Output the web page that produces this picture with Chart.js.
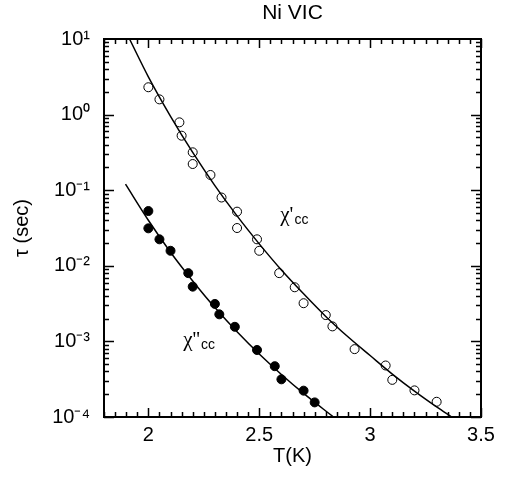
<!DOCTYPE html>
<html><head><meta charset="utf-8">
<script src="https://cdn.jsdelivr.net/npm/chart.js@4.4.1/dist/chart.umd.min.js"></script>
<style>html,body{margin:0;padding:0;background:#fff;} canvas{display:block;}</style>
</head><body>
<canvas id="c" width="505" height="481"></canvas>
<script>
// χ'cc measured relaxation times (open circles)
const chiPrimeT   = [2.00, 2.05, 2.14, 2.15, 2.20, 2.20, 2.28, 2.33, 2.40, 2.40, 2.49, 2.50, 2.59, 2.66, 2.70, 2.80, 2.83, 2.93, 3.07, 3.10, 3.20, 3.30];
const chiPrimeTau = [2.3, 1.59, 0.79, 0.526, 0.317, 0.222, 0.159, 0.080, 0.052, 0.0316, 0.0224, 0.0158, 0.0080, 0.0052, 0.0032, 0.00223, 0.00158, 0.00079, 0.00048, 0.00031, 0.000225, 0.000159];
// χ''cc measured relaxation times (filled circles)
const chiDoubleT   = [2.00, 2.00, 2.05, 2.10, 2.18, 2.20, 2.30, 2.32, 2.39, 2.49, 2.57, 2.60, 2.70, 2.75];
const chiDoubleTau = [0.053, 0.0313, 0.0224, 0.0158, 0.0080, 0.0053, 0.00313, 0.00228, 0.00156, 0.00077, 0.00047, 0.000315, 0.000223, 0.000156];
// fitted curves
const fitPrimeT   = [1.915, 2.0, 2.1, 2.2, 2.3, 2.4, 2.5, 2.6, 2.7, 2.8, 2.9, 3.0, 3.1, 3.2, 3.3, 3.368];
const fitPrimeTau = [10, 3.16, 0.95, 0.316, 0.115, 0.0457, 0.0195, 0.0088, 0.00426, 0.00214, 0.00115, 0.00065, 0.00037, 0.00022, 0.000136, 0.0001];
const fitDoubleT   = [1.897, 2.0, 2.1, 2.2, 2.3, 2.4, 2.5, 2.6, 2.7, 2.835];
const fitDoubleTau = [0.12, 0.040, 0.0151, 0.0063, 0.0028, 0.00134, 0.00068, 0.000365, 0.000205, 0.0001];
// axis ticks
const xTickValues = [2, 2.5, 3, 3.5];
const xTickLabels = ['2', '2.5', '3', '3.5'];
const yTickValues = [1e-4, 1e-3, 1e-2, 1e-1, 1, 10];
const yTickLabels = ['10\u207B\u2074', '10\u207B\u00B3', '10\u207B\u00B2', '10\u207B\u00B9', '10\u2070', '10\u00B9'];

const pts = (xs, ys) => xs.map((x, i) => ({x: x, y: ys[i]}));

Chart.defaults.font.family = '"Liberation Sans", Arial, sans-serif';
Chart.defaults.color = '#000';

const framePlugin = {
  id: 'frame',
  afterDraw(chart) {
    const ctx = chart.ctx, a = chart.chartArea, xs = chart.scales.x, ys = chart.scales.y;
    ctx.save();
    ctx.strokeStyle = '#000';
    ctx.lineWidth = 1.5;
    ctx.beginPath();
    for (let k = 36; k <= 70; k++) {
      const v = k / 20;
      const len = (k % 10 === 0) ? 9 : 5;
      const px = Math.round(xs.getPixelForValue(v)) + 0.5;
      ctx.moveTo(px, a.bottom); ctx.lineTo(px, a.bottom - len);
      ctx.moveTo(px, a.top); ctx.lineTo(px, a.top + len);
    }
    for (let e = -4; e <= 0; e++) {
      for (let m = 1; m <= 9; m++) {
        const v = m * Math.pow(10, e);
        const len = (m === 1) ? 10 : 5;
        const py = Math.round(ys.getPixelForValue(v)) + 0.5;
        ctx.moveTo(a.left, py); ctx.lineTo(a.left + len, py);
        ctx.moveTo(a.right, py); ctx.lineTo(a.right - len, py);
      }
    }
    ctx.stroke();
    ctx.lineWidth = 2;
    ctx.strokeRect(a.left, a.top, a.right - a.left, a.bottom - a.top);

    // curve labels
    ctx.fillStyle = '#000';
    ctx.textBaseline = 'alphabetic';
    ctx.textAlign = 'left';
    let px = xs.getPixelForValue(2.595), py = ys.getPixelForValue(0.0392);
    ctx.font = '21px "Liberation Serif", serif';
    ctx.fillText("\u03C7'", px, py);
    let w = ctx.measureText("\u03C7'").width;
    ctx.font = '14px "Liberation Sans", Arial, sans-serif';
    ctx.fillText('cc', px + w + 1, py + 3);

    px = xs.getPixelForValue(2.157); py = ys.getPixelForValue(0.00087);
    ctx.font = '21px "Liberation Serif", serif';
    ctx.fillText("\u03C7''", px, py);
    w = ctx.measureText("\u03C7''").width;
    ctx.font = '14px "Liberation Sans", Arial, sans-serif';
    ctx.fillText('cc', px + w + 1, py + 3);
    ctx.restore();
  }
};

new Chart(document.getElementById('c'), {
  type: 'scatter',
  data: {
    datasets: [
      { label: "χ'cc fit", data: pts(fitPrimeT, fitPrimeTau), showLine: true, borderColor: '#000', borderWidth: 1.5, pointRadius: 0, cubicInterpolationMode: 'monotone', fill: false },
      { label: "χ''cc fit", data: pts(fitDoubleT, fitDoubleTau), showLine: true, borderColor: '#000', borderWidth: 1.5, pointRadius: 0, cubicInterpolationMode: 'monotone', fill: false },
      { label: "χ'cc", data: pts(chiPrimeT, chiPrimeTau), showLine: false, pointRadius: 4.5, pointBorderWidth: 1, borderColor: '#000', backgroundColor: 'rgba(0,0,0,0)', pointBackgroundColor: 'rgba(0,0,0,0)' },
      { label: "χ''cc", data: pts(chiDoubleT, chiDoubleTau), showLine: false, pointRadius: 4.5, pointBorderWidth: 1, borderColor: '#000', backgroundColor: '#000', pointBackgroundColor: '#000' }
    ]
  },
  options: {
    responsive: false,
    devicePixelRatio: 1,
    animation: false,
    layout: { padding: { left: 0, right: 24, top: 0, bottom: 0 } },
    plugins: {
      legend: { display: false },
      tooltip: { enabled: false },
      title: { display: true, text: 'Ni VIC', fullSize: false, color: '#000', font: { size: 21, weight: 'normal' }, padding: { top: 0.5, bottom: 13.3 } }
    },
    scales: {
      x: {
        type: 'linear', min: 1.8, max: 3.5,
        grid: { display: false, drawTicks: false },
        border: { display: false },
        afterBuildTicks: (s) => { s.ticks = xTickValues.map(v => ({ value: v })); },
        afterFit: (s) => { s.height = 64; },
        ticks: { autoSkip: false, maxRotation: 0, padding: 6, font: { size: 20 }, color: '#000',
          callback: (v, i) => xTickLabels[i] },
        title: { display: true, text: 'T(K)', color: '#000', font: { size: 20 }, padding: { top: 0, bottom: 12.5 } }
      },
      y: {
        type: 'logarithmic', min: 1e-4, max: 10,
        grid: { display: false, drawTicks: false },
        border: { display: false },
        afterBuildTicks: (s) => { s.ticks = yTickValues.map(v => ({ value: v })); },
        afterFit: (s) => { s.width = 104; },
        ticks: { autoSkip: false, padding: 14, font: { size: 20 }, color: '#000',
          callback: (v, i) => yTickLabels[i] },
        title: { display: true, text: '\u03C4 (sec)', color: '#000', font: { size: 20 }, padding: { top: 10.5, bottom: 0 } }
      }
    }
  },
  plugins: [framePlugin]
});
</script>
</body></html>
